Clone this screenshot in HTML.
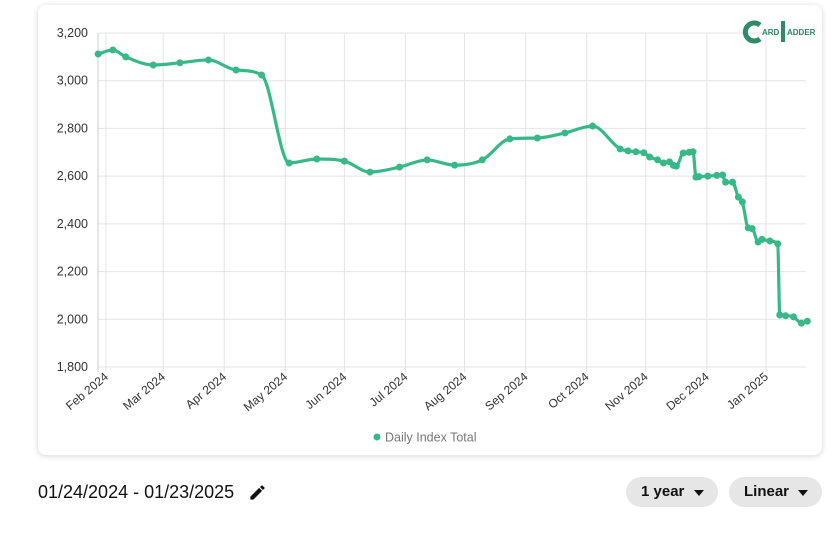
<!DOCTYPE html>
<html><head><meta charset="utf-8"><style>
body{margin:0;width:840px;height:535px;background:#fff;font-family:"Liberation Sans",sans-serif;position:relative;overflow:hidden}
.card{position:absolute;left:38px;top:5px;width:784px;height:450px;background:#fff;border-radius:8px;box-shadow:0 1px 6px rgba(0,0,0,.18)}
.pill{position:absolute;top:477px;height:30px;background:#e6e6e6;border-radius:15px;font-size:15px;font-weight:bold;color:#111;line-height:30px;box-sizing:border-box;padding-left:15px}
.pill span{position:absolute;right:14px;top:13px;width:0;height:0;border-left:5px solid transparent;border-right:5px solid transparent;border-top:6px solid #111}
</style></head><body>
<div class="card"></div>
<svg id="chart" width="840" height="535" style="position:absolute;left:0;top:0"></svg>
<div style="position:absolute;left:38px;top:482px;font-size:18px;color:#111">01/24/2024 - 01/23/2025</div>
<svg style="position:absolute;left:248px;top:483px" width="19" height="19" viewBox="0 0 24 24"><path d="M3 17.25V21h3.75L17.81 9.94l-3.75-3.75L3 17.25zM20.71 7.04a1 1 0 0 0 0-1.41l-2.34-2.34a1 1 0 0 0-1.41 0l-1.83 1.83 3.75 3.75 1.83-1.83z" fill="#111"/></svg>
<div class="pill" style="left:626px;width:92px">1 year<span></span></div>
<div class="pill" style="left:729px;width:93px">Linear<span></span></div>
<script>
const yTicks=[1800,2000,2200,2400,2600,2800,3000,3200];
const monthLabels=["Feb 2024","Mar 2024","Apr 2024","May 2024","Jun 2024","Jul 2024","Aug 2024","Sep 2024","Oct 2024","Nov 2024","Dec 2024","Jan 2025"];
const monthDays=[0,29,60,91,121,152,182,213,244,274,305,335];
const days=[-4,3.5,10,24,37.5,52,66,79,93,107,121,134,149,163,177,191,205,219,233,247,261,265,269,273,276,280,283,286,288,289.5,293,296,298,299.5,301,305.5,310,313,314.5,318,321,323,326,328,331,333,337,341,342,345,349,353,356];
const values=[3112,3129,3100,3066,3075,3087,3045,3024,2655,2672,2663,2617,2638,2668,2646,2668,2756,2760,2781,2810,2714,2706,2702,2698,2680,2668,2655,2660,2645,2642,2697,2700,2702,2596,2598,2600,2603,2605,2575,2575,2512,2492,2383,2380,2324,2335,2328,2316,2018,2015,2010,1984,1992,1988,1984];
const NS="http://www.w3.org/2000/svg";
const svg=document.getElementById('chart');
const X0=106,KX=1.97,Y0=367,KY=(367-33)/1400;
const xs=d=>X0+d*KX, ys=v=>Y0-(v-1800)*KY;
function mk(t,a){const e=document.createElementNS(NS,t);for(const k in a)e.setAttribute(k,a[k]);svg.appendChild(e);return e;}
yTicks.forEach(v=>{
 const l=mk('line',{x1:98,x2:806,y1:ys(v),y2:ys(v),stroke:'#e4e4e4'});
 
 
 const t=mk('text',{x:88,y:ys(v)+4,'text-anchor':'end','font-size':12.5,fill:'#333'});
 t.textContent=v.toLocaleString('en-US');
 
 
});
monthDays.forEach((d,i)=>{
 const l=mk('line',{x1:xs(d),x2:xs(d),y1:33,y2:372,stroke:'#e4e4e4'});
 
 
 const t=mk('text',{x:xs(d)+3,y:378,'text-anchor':'end','font-size':12,fill:'#333',transform:`rotate(-40 ${xs(d)+3} 378)`});
 t.textContent=monthLabels[i];
 
 
});
const ax=mk('line',{x1:98,x2:98,y1:33,y2:372,stroke:'#ccc'});


// monotone cubic
const P=days.map((d,i)=>[xs(d),ys(values[i])]);
const n=P.length,m=[],dl=[];
for(let i=0;i<n-1;i++)dl.push((P[i+1][1]-P[i][1])/(P[i+1][0]-P[i][0]));
for(let i=0;i<n;i++){if(i==0)m.push(dl[0]);else if(i==n-1)m.push(dl[n-2]);else m.push(dl[i-1]*dl[i]<=0?0:(dl[i-1]+dl[i])/2);}
for(let i=0;i<n-1;i++){if(dl[i]==0){m[i]=m[i+1]=0;continue;}const a=m[i]/dl[i],b=m[i+1]/dl[i],s=a*a+b*b;if(s>9){const t=3/Math.sqrt(s);m[i]=t*a*dl[i];m[i+1]=t*b*dl[i];}}
let dp=`M${P[0][0]},${P[0][1]}`;
for(let i=0;i<n-1;i++){const h=(P[i+1][0]-P[i][0])/3;dp+=` C${P[i][0]+h},${P[i][1]+m[i]*h} ${P[i+1][0]-h},${P[i+1][1]-m[i+1]*h} ${P[i+1][0]},${P[i+1][1]}`;}
const line=mk('path',{d:dp,fill:'none',stroke:'#36b987','stroke-width':3.2,'stroke-linejoin':'round'});


P.forEach(p=>{
 const c=mk('circle',{cx:p[0],cy:p[1],r:3.5,fill:'#36b987'});
 
 
});
const ld=mk('circle',{cx:377,cy:437,r:3.5,fill:'#36b987'});


const lt=mk('text',{x:385,y:441.5,'font-size':12.5,fill:'#777'});
lt.textContent='Daily Index Total';


// logo
const lc=mk('path',{d:'M760 25 A9 9 0 1 0 760 39',fill:'none',stroke:'#2e8b65','stroke-width':5});


const lg=mk('text',{x:762,y:35,'font-size':8,'font-weight':'bold',fill:'#2e8b65'});
lg.textContent='ARD';


const ll=mk('rect',{x:781,y:21,width:4,height:21,fill:'#2e8b65'});


const lg2=mk('text',{x:787,y:35,'font-size':8,'font-weight':'bold',fill:'#2e8b65'});
lg2.textContent='ADDER';


</script>
</body></html>
